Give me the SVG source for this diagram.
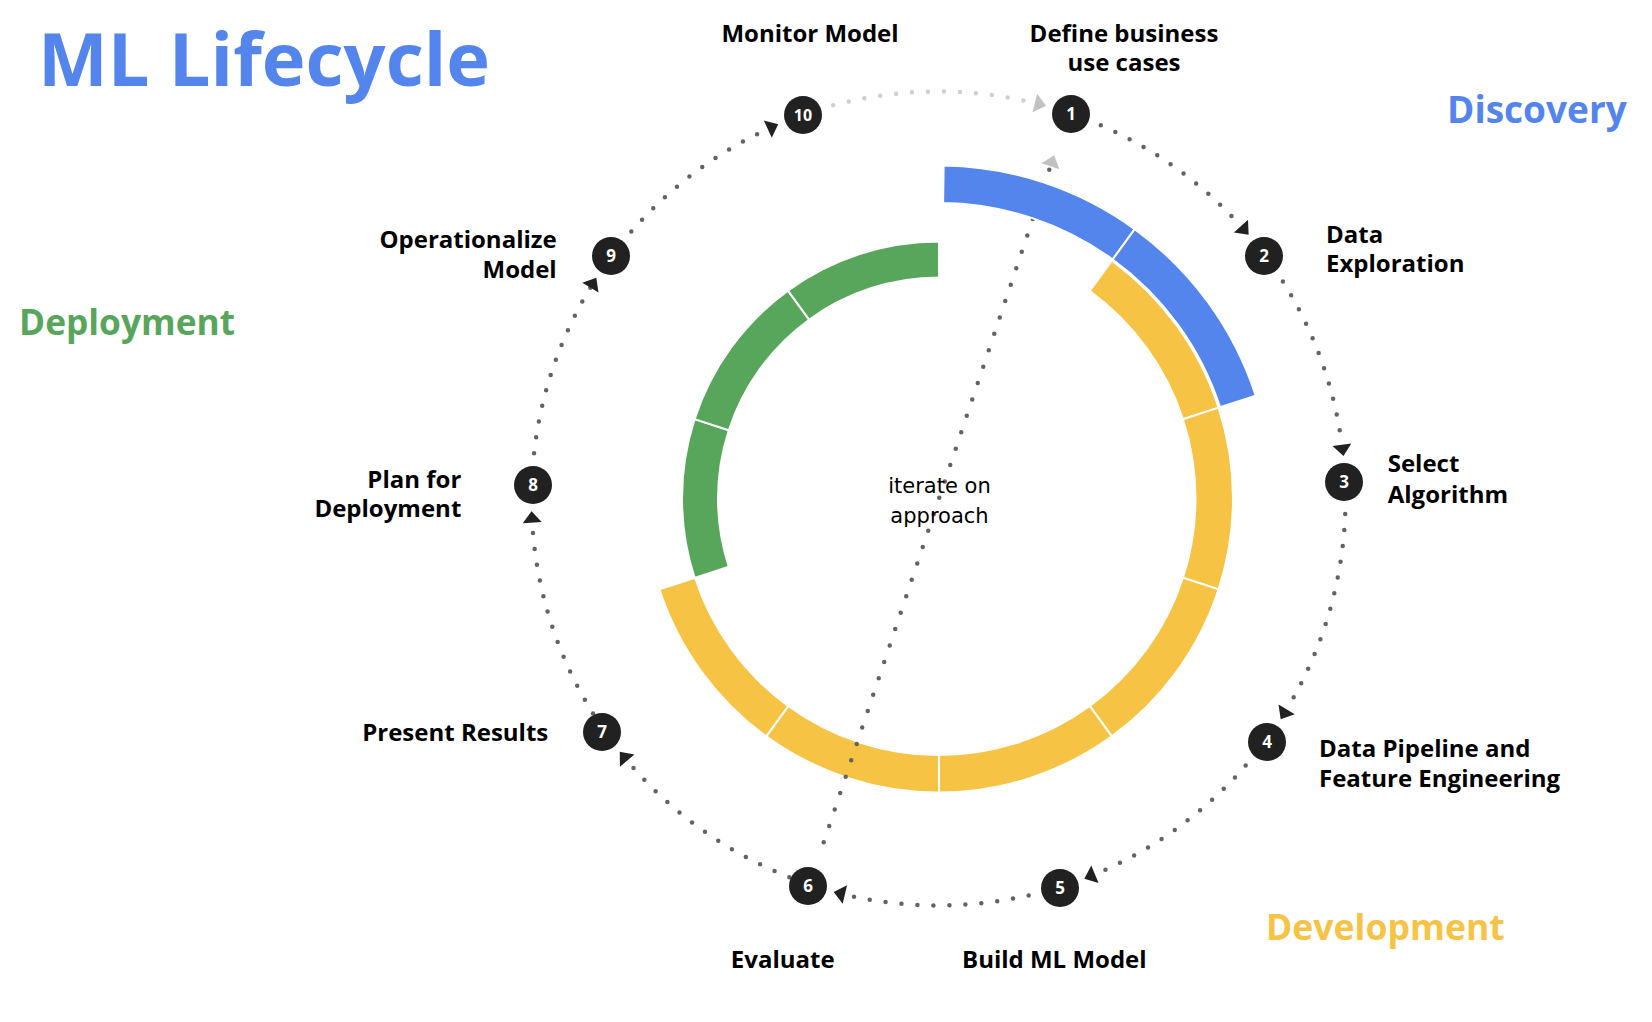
<svg xmlns="http://www.w3.org/2000/svg" width="1652" height="1022" viewBox="0 0 1652 1022">
<style>
  .lbl{font-family:"Open Sans","Liberation Sans",sans-serif;font-weight:700;font-size:24px;fill:#000}
  .num{font-family:"Open Sans","Liberation Sans",sans-serif;font-weight:700;font-size:17px;fill:#fff;text-anchor:middle}
  .phase{font-family:"Open Sans","Liberation Sans",sans-serif;font-weight:700;font-size:37px}
  .dot{fill:#212121}
  .seg{stroke:#fff;stroke-width:2;stroke-linejoin:miter}
  .blue{fill:#5385ec}
  .yellow{fill:#f6c344}
  .green{fill:#58a65c}
  .arc{fill:none;stroke:#636363;stroke-width:4.5;stroke-linecap:round;stroke-dasharray:0 16;marker-end:url(#ah)}
  .arcl{fill:none;stroke:#cfcfcf;stroke-width:4.5;stroke-linecap:round;stroke-dasharray:0 16;marker-end:url(#ahl)}
  .iter{fill:none;stroke:#636363;stroke-width:4.5;stroke-linecap:round;stroke-dasharray:0 17.3;marker-end:url(#ahl)}
  .center{font-family:"DejaVu Sans",sans-serif;font-size:21px;fill:#000;text-anchor:middle}
</style>
<defs>
  <marker id="ah" markerUnits="userSpaceOnUse" viewBox="0 -11 14 22" markerWidth="14" markerHeight="22" refX="0" refY="0" orient="auto" overflow="visible">
    <path d="M0,-9.5 L11.5,0 L0,9.5 Z" fill="#212121"/>
  </marker>
  <marker id="ahl" markerUnits="userSpaceOnUse" viewBox="0 -11 14 22" markerWidth="14" markerHeight="22" refX="0" refY="0" orient="auto" overflow="visible">
    <path d="M0,-9.5 L11.5,0 L0,9.5 Z" fill="#c2c2c2"/>
  </marker>
</defs>
<rect width="1652" height="1022" fill="#fff"/>

<text x="38" y="86" class="phase" style="font-size:74px;fill:#5385ec">ML Lifecycle</text>
<text x="1447" y="122.7" class="phase" style="fill:#5385ec">Discovery</text>
<text x="19" y="335" class="phase" style="font-size:35.3px;fill:#58a65c">Deployment</text>
<text x="1266" y="939.7" class="phase" style="font-size:35.6px;fill:#f6c344">Development</text>

<g id="ring-deployment">
  <path class="seg green" d="M694.58,577.92 A257,257 0 0 1 694.58,419.08 L728.82,430.21 A221,221 0 0 0 728.82,566.79 Z"/>
  <path class="seg green" d="M694.58,419.08 A257,257 0 0 1 787.94,290.58 L809.10,319.71 A221,221 0 0 0 728.82,430.21 Z"/>
  <path class="seg green" d="M787.94,290.58 A257,257 0 0 1 939,241.5 L939,277.5 A221,221 0 0 0 809.10,319.71 Z"/>
</g>
<g id="ring-development">
  <path class="seg yellow" d="M1111.81,260.65 A294,294 0 0 1 1218.61,407.65 L1182.95,419.24 A256.5,256.5 0 0 0 1089.77,290.99 Z"/>
  <path class="seg yellow" d="M1218.61,407.65 A294,294 0 0 1 1218.61,589.35 L1182.95,577.76 A256.5,256.5 0 0 0 1182.95,419.24 Z"/>
  <path class="seg yellow" d="M1218.61,589.35 A294,294 0 0 1 1111.81,736.35 L1089.77,705.99 A256.5,256.5 0 0 0 1182.95,577.76 Z"/>
  <path class="seg yellow" d="M1111.81,736.35 A294,294 0 0 1 939,792.5 L939,755 A256.5,256.5 0 0 0 1089.77,705.99 Z"/>
  <path class="seg yellow" d="M939,792.5 A294,294 0 0 1 766.19,736.35 L788.23,705.99 A256.5,256.5 0 0 0 939,755 Z"/>
  <path class="seg yellow" d="M766.19,736.35 A294,294 0 0 1 659.39,589.35 L695.05,577.76 A256.5,256.5 0 0 0 788.23,705.99 Z"/>
</g>

<g id="connectors">
  <path class="arc" d="M1100.79,125.26 A407,407 0 0 1 1240.96,226.16"/>
  <path class="arc" d="M1282.90,281.62 A407,407 0 0 1 1341.93,444.67"/>
  <path class="arc" d="M1345.20,514.12 A407,407 0 0 1 1286.63,709.34"/>
  <path class="arc" d="M1245.67,765.52 A407,407 0 0 1 1094.91,874.25"/>
  <path class="arc" d="M1028.67,895.39 A407,407 0 0 1 844.87,894.58"/>
  <path class="arc" d="M789.34,877.18 A407,407 0 0 1 627.18,760.66"/>
  <path class="arc" d="M593.03,713.57 A407,407 0 0 1 532.22,522.64"/>
  <path class="arc" d="M534.04,453.13 A407,407 0 0 1 590.37,287.66"/>
  <path class="arc" d="M631.33,231.48 A407,407 0 0 1 767.78,129.03"/>
  <path class="arcl" d="M833.16,105.37 A407,407 0 0 1 1034.89,103.08"/>
  <path class="iter" d="M823.7,842.3 L1050.5,166.2"/>
  <text class="center" x="939.5" y="493.3">iterate on</text>
  <text class="center" x="939.5" y="522.7">approach</text>
</g>

<g id="ring-discovery">
  <path class="seg blue" d="M943.65,165.53 A333,333 0 0 1 1134.73,229.10 L1112.69,259.44 A295.5,295.5 0 0 0 943.13,203.03 Z"/>
  <path class="seg blue" d="M1134.73,229.10 A333,333 0 0 1 1255.70,395.60 L1220.04,407.18 A295.5,295.5 0 0 0 1112.69,259.44 Z"/>
</g>

<g id="node-1">
  <circle class="dot" cx="1071" cy="114" r="19"/>
  <text class="num" x="1071" y="120">1</text>
  <text class="lbl" x="1124" y="42.3" text-anchor="middle">Define business</text>
  <text class="lbl" x="1124" y="70.7" text-anchor="middle">use cases</text>
</g>
<g id="node-2">
  <circle class="dot" cx="1264" cy="256" r="19"/>
  <text class="num" x="1264" y="262">2</text>
  <text class="lbl" x="1326" y="242.7">Data</text>
  <text class="lbl" x="1326" y="272.3">Exploration</text>
</g>
<g id="node-3">
  <circle class="dot" cx="1344" cy="482" r="19"/>
  <text class="num" x="1344" y="488">3</text>
  <text class="lbl" x="1387.7" y="471.7">Select</text>
  <text class="lbl" x="1387.7" y="502.7">Algorithm</text>
</g>
<g id="node-4">
  <circle class="dot" cx="1267" cy="742" r="19"/>
  <text class="num" x="1267" y="748">4</text>
  <text class="lbl" x="1319" y="756.5">Data Pipeline and</text>
  <text class="lbl" x="1319" y="786.5">Feature Engineering</text>
</g>
<g id="node-5">
  <circle class="dot" cx="1060" cy="888" r="19"/>
  <text class="num" x="1060" y="894">5</text>
  <text class="lbl" x="962" y="968.3">Build ML Model</text>
</g>
<g id="node-6">
  <circle class="dot" cx="808" cy="886" r="19"/>
  <text class="num" x="808" y="892">6</text>
  <text class="lbl" x="730.8" y="968.3">Evaluate</text>
</g>
<g id="node-7">
  <circle class="dot" cx="602" cy="732" r="19"/>
  <text class="num" x="602" y="738">7</text>
  <text class="lbl" x="548.3" y="741" text-anchor="end">Present Results</text>
</g>
<g id="node-8">
  <circle class="dot" cx="533" cy="485" r="19"/>
  <text class="num" x="533" y="491">8</text>
  <text class="lbl" x="461.3" y="487.5" text-anchor="end">Plan for</text>
  <text class="lbl" x="461.3" y="517" text-anchor="end">Deployment</text>
</g>
<g id="node-9">
  <circle class="dot" cx="611" cy="256" r="19"/>
  <text class="num" x="611" y="262">9</text>
  <text class="lbl" x="556.7" y="248.2" text-anchor="end">Operationalize</text>
  <text class="lbl" x="556.7" y="277.9" text-anchor="end">Model</text>
</g>
<g id="node-10">
  <circle class="dot" cx="803" cy="115" r="19"/>
  <text class="num" x="803" y="121" style="font-size:16px">10</text>
  <text class="lbl" x="721.4" y="42.3">Monitor Model</text>
</g>
</svg>
